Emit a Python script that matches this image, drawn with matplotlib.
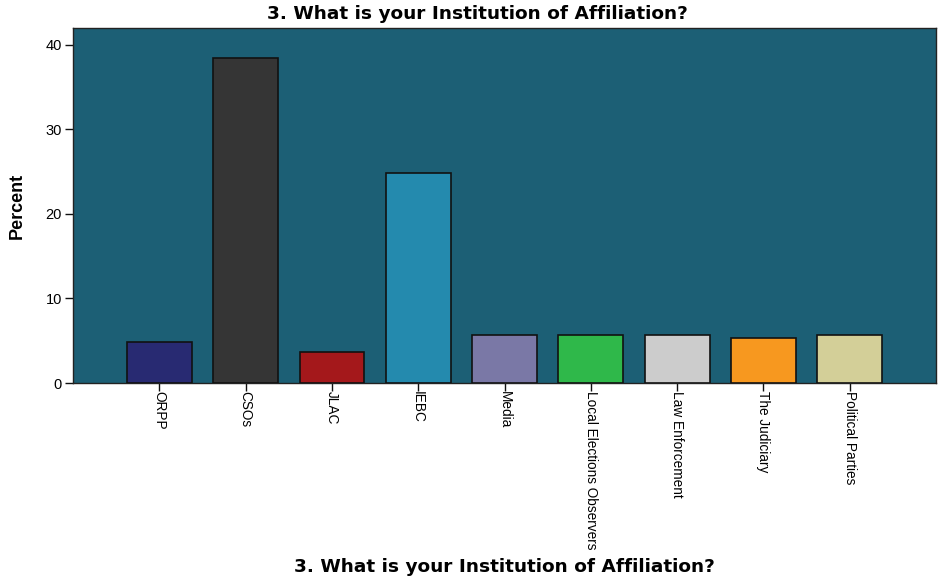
import matplotlib
matplotlib.use("Agg")
import matplotlib.pyplot as plt

categories = ["ORPP", "CSOs", "JLAC", "IEBC", "Media", "Local Elections Observers",
              "Law Enforcement", "The Judiciary", "Political Parties"]
percent = [4.9, 38.4, 3.7, 24.9, 5.7, 5.7, 5.7, 5.35, 5.7]
colors = ["#282a72", "#353535", "#a4181b", "#248aae", "#7a78a6", "#2fb84a",
          "#cccccc", "#f7981f", "#d3cf98"]
yticks = [0, 10, 20, 30, 40]
title = "3. What is your Institution of Affiliation?"

plt.rcParams["font.family"] = ["Liberation Sans", "DejaVu Sans"]

fig = plt.figure(figsize=(9.38, 5.77), dpi=100)
ax = fig.add_axes([0.0778, 0.3362, 0.9202, 0.6153])
ax.set_facecolor("#1c5f75")

x = list(range(len(categories)))
ax.bar(x, percent, width=0.75, color=colors, edgecolor="#111111", linewidth=1.2, zorder=3)

ax.set_xlim(-1, 9)
ax.set_ylim(0, 42.0)
ax.set_yticks(yticks)
ax.set_yticklabels([str(v) for v in yticks], fontsize=10.5)
ax.set_xticks(x)
ax.set_xticklabels(categories, rotation=-90, fontsize=9.8, va="top", ha="center")
ax.tick_params(axis="both", direction="out", length=6, width=1, color="#111111", pad=2)
ax.tick_params(axis="x", pad=0)

for side in ["left", "bottom", "right", "top"]:
    ax.spines[side].set_color("#222222")
    ax.spines[side].set_linewidth(1)

ax.set_ylabel("Percent", fontsize=13, fontweight="bold")
ax.yaxis.set_label_coords(-0.055, 0.5)
fig.text(0.509, 0.975, title, ha="center", va="center", fontsize=13.3,
         fontweight="bold", family="DejaVu Sans")
fig.text(0.538, 0.018, title, ha="center", va="center", fontsize=13.3,
         fontweight="bold", family="DejaVu Sans")

fig.savefig("out.png", dpi=100)
